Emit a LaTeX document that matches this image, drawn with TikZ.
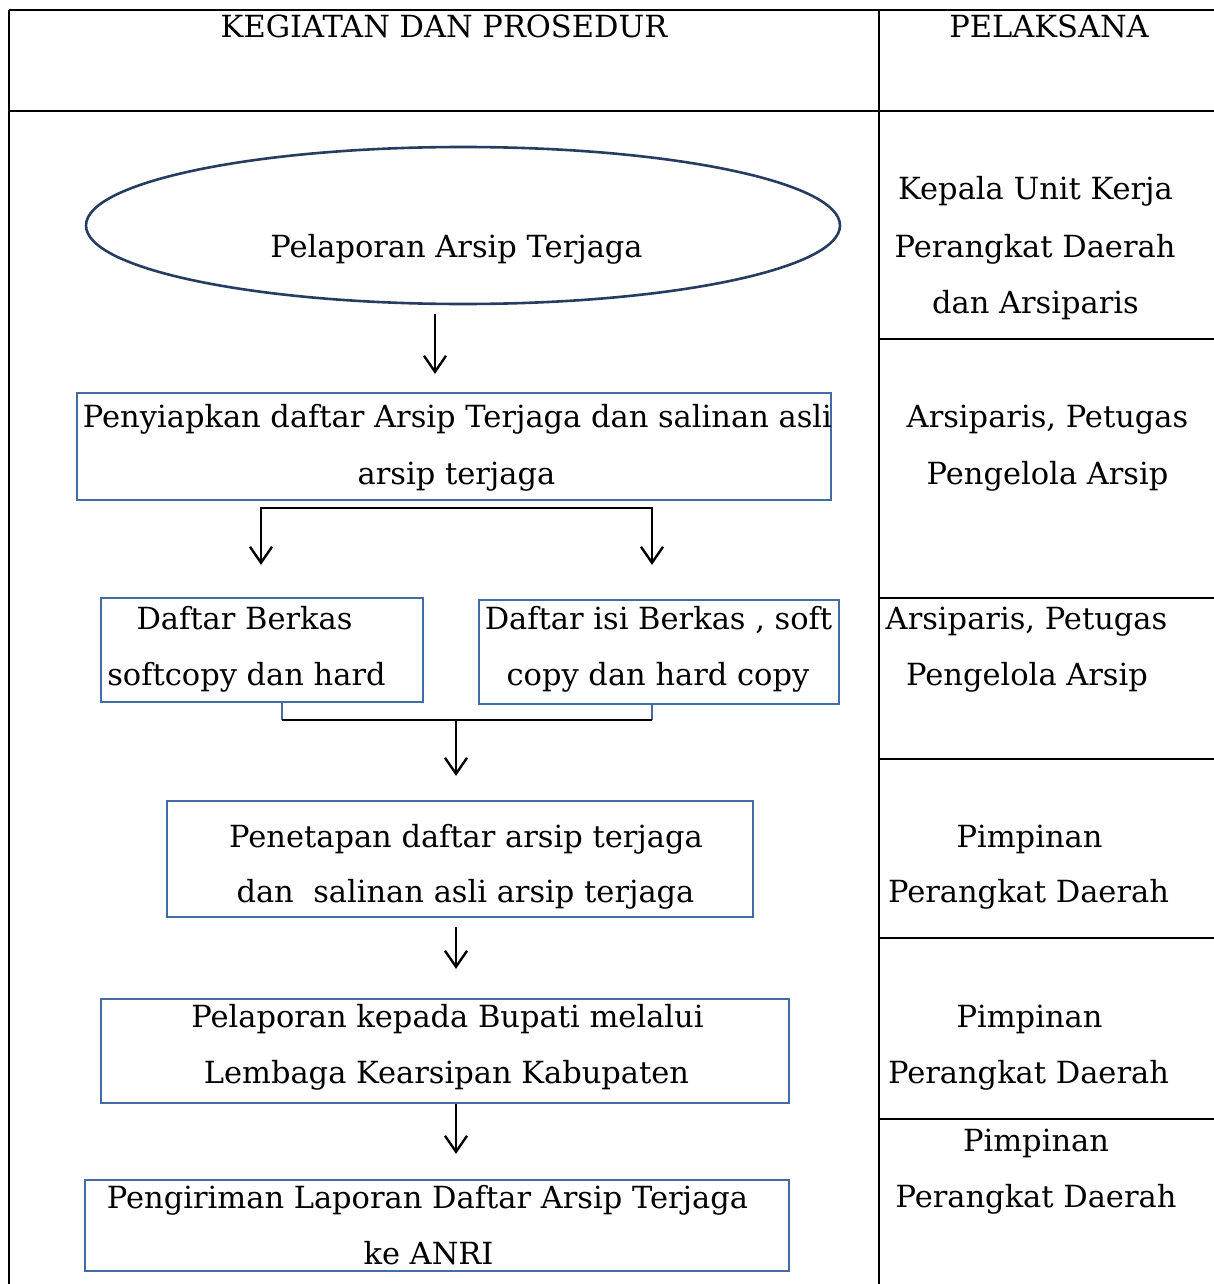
\documentclass[tikz,border=0pt]{standalone}
\usepackage{fontspec}
\setmainfont{DejaVu Serif}
\usetikzlibrary{shapes.geometric,arrows.meta}
\definecolor{boxblue}{RGB}{68,108,162}
\definecolor{ellblue}{RGB}{38,60,96}
\begin{document}
\begin{tikzpicture}[x=1pt,y=-1pt,
  tline/.style={line width=2.6pt,black},
  bline/.style={line width=2.2pt,boxblue},
  flow/.style={line width=2.4pt,black,-{Straight Barb[length=16pt,width=22pt,line width=2.4pt]}},
  box/.style={draw=boxblue,line width=2.2pt,rectangle,inner sep=0pt},
  txt/.style={font=\fontsize{30.5}{36}\selectfont,inner sep=0pt,anchor=base},
  head/.style={font=\fontsize{30.5}{36}\selectfont,inner sep=0pt,anchor=base}]
\useasboundingbox[fill=white] (0,0) rectangle (1214,1284);
% table
\draw[tline] (9,10) -- (1214,10);
\draw[tline] (9,111) -- (1214,111);
\draw[tline] (9,10) -- (9,1284);
\draw[tline] (879,10) -- (879,1284);
\foreach \yy in {339,598,759,938,1119} \draw[tline] (879,\yy) -- (1214,\yy);
% header
\node[head] (h1) at (444,38) {KEGIATAN DAN PROSEDUR};
\node[head] (h2) at (1049,38) {PELAKSANA};
% shapes
\node[ellipse,draw=ellblue,line width=2.6pt,minimum width=754pt,minimum height=157pt,inner sep=0pt] (e) at (463,225.5) {};
\node[box,minimum width=754pt,minimum height=107pt] (b2) at (454,446.5) {};
\node[box,minimum width=322pt,minimum height=104pt] (b3a) at (262,650) {};
\node[box,minimum width=360pt,minimum height=104pt] (b3b) at (659,652) {};
\node[box,minimum width=586pt,minimum height=116pt] (b4) at (460,859) {};
\node[box,minimum width=688pt,minimum height=104pt] (b5) at (445,1051) {};
\node[box,minimum width=704pt,minimum height=91pt] (b6) at (437,1225.5) {};
% texts in shapes
\node[txt] (t1) at (456.5,257) {Pelaporan Arsip Terjaga};
\node[txt] (t2a) at (457.5,427) {Penyiapkan daftar Arsip Terjaga dan salinan asli};
\node[txt] (t2b) at (456.5,484) {arsip terjaga};
\node[txt] (t3a) at (244.5,629) {Daftar Berkas};
\node[txt] (t3b) at (246.5,685) {softcopy dan hard};
\node[txt] (t3c) at (658.5,629) {Daftar isi Berkas , soft};
\node[txt] (t3d) at (658,685) {copy dan hard copy};
\node[txt] (t4a) at (466,847) {Penetapan daftar arsip terjaga};
\node[txt] (t4b) at (465.5,902) {dan\ \ salinan asli arsip terjaga};
\node[txt] (t5a) at (447.5,1027) {Pelaporan kepada Bupati melalui};
\node[txt] (t5b) at (446.5,1083) {Lembaga Kearsipan Kabupaten};
\node[txt] (t6a) at (427.5,1208) {Pengiriman Laporan Daftar Arsip Terjaga};
\node[txt] (t6b) at (428.5,1264) {ke ANRI};
% right column
\node[txt] (r1a) at (1035.5,200) {Kepala Unit Kerja};
\node[txt] (r1b) at (1035,257) {Perangkat Daerah};
\node[txt] (r1c) at (1035.5,313) {dan Arsiparis};
\node[txt] (r2a) at (1047.5,427) {Arsiparis, Petugas};
\node[txt] (r2b) at (1047.5,484) {Pengelola Arsip};
\node[txt] (r3a) at (1026.5,629) {Arsiparis, Petugas};
\node[txt] (r3b) at (1027,685) {Pengelola Arsip};
\node[txt] (r4a) at (1029.5,847) {Pimpinan};
\node[txt] (r4b) at (1028.5,902) {Perangkat Daerah};
\node[txt] (r5a) at (1029.5,1027) {Pimpinan};
\node[txt] (r5b) at (1028.5,1083) {Perangkat Daerah};
\node[txt] (r6a) at (1036,1151) {Pimpinan};
\node[txt] (r6b) at (1036,1207) {Perangkat Daerah};
% connectors
\draw[flow] ([xshift=-28pt,yshift=-9pt]e.south) -- ([xshift=-19pt,yshift=18pt]b2.north);
\coordinate (br) at ([yshift=-7pt]b2.south);
\draw[flow] (br) -| ([xshift=-1pt,yshift=32pt]b3a.north);
\draw[flow] (br) -| ([xshift=-7pt,yshift=34pt]b3b.north);
\coordinate (m) at (456,720);
\draw[bline] ([xshift=20pt]b3a.south) -- ([xshift=20pt]b3a.south |- m);
\draw[bline] ([xshift=-7pt]b3b.south) -- ([xshift=-7pt]b3b.south |- m);
\draw[tline] ([xshift=20pt]b3a.south |- m) -- ([xshift=-7pt]b3b.south |- m);
\draw[flow] (m) -- ([xshift=-4pt,yshift=24pt]b4.north);
\draw[flow] ([xshift=-4pt,yshift=-9pt]b4.south) -- ([xshift=11pt,yshift=29pt]b5.north);
\draw[flow] ([xshift=11pt]b5.south) -- ([xshift=19pt,yshift=25pt]b6.north);
\end{tikzpicture}
\end{document}
